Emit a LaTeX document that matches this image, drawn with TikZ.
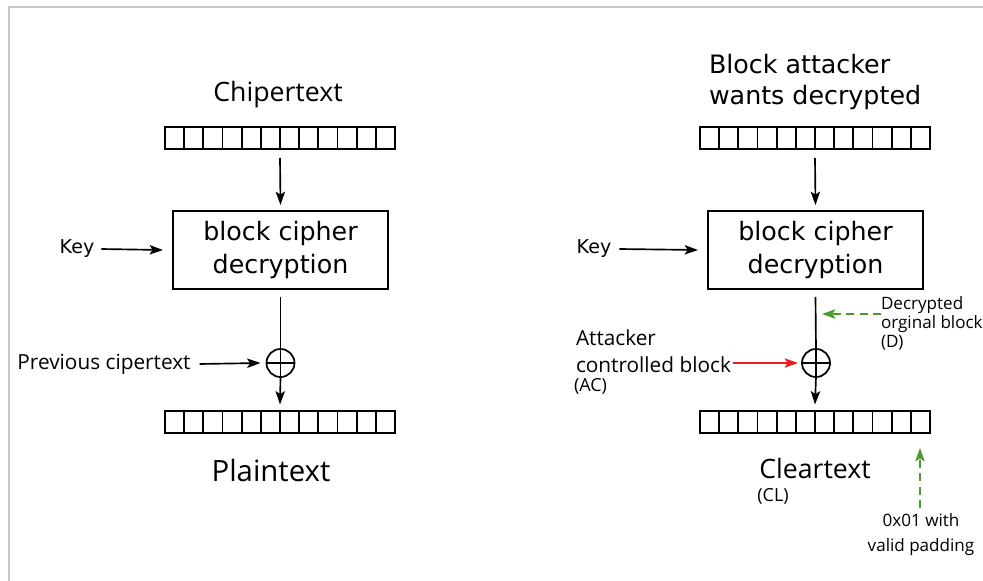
\documentclass[tikz,border=0pt]{standalone}
\usepackage{fontspec}
\setmainfont{DejaVu Sans}
\newfontfamily\opensans{Open Sans}
\usetikzlibrary{arrows.meta,calc}
\definecolor{dgreen}{HTML}{4C9A2A}
\definecolor{dred}{HTML}{EE1C1C}
\begin{document}
\begin{tikzpicture}[x=0.75pt,y=-0.75pt,
  every node/.style={inner sep=0pt, outer sep=0pt},
  bar/.style={draw, line width=1.5pt, minimum width=172.5pt, minimum height=16.5pt},
  cbox/.style={draw, line width=1.5pt, minimum width=161.25pt, minimum height=58.5pt, align=center, font=\fontsize{19}{24.75}\selectfont},
  xor/.style={circle, draw, line width=1.3pt, minimum size=21pt,
    path picture={\draw[line width=1.2pt] (path picture bounding box.north) -- (path picture bounding box.south) (path picture bounding box.west) -- (path picture bounding box.east);}},
  arr/.style={line width=1.25pt, -{Stealth[length=10pt,width=7pt,inset=2.2pt]}},
  garr/.style={arr, dgreen, dashed, dash pattern=on 6pt off 4pt},
  rarr/.style={arr, dred},
  keytxt/.style={font=\fontsize{14.3}{17}\selectfont},
  mid/.style={font=\opensans\fontsize{15.6}{20.25}\selectfont},
  small/.style={font=\opensans\fontsize{12.8}{14.25}\selectfont},
  tiny/.style={font=\opensans\fontsize{13.5}{16}\selectfont}
]
\useasboundingbox (0,0) rectangle (983,581);
\draw[black!22, line width=1pt] (9,581) -- (9,7) -- (983,7);

% ---------- left ----------
\node[font=\opensans\fontsize{20}{24}\selectfont] (ct) at (278,95) {Chipertext};
\node[bar] (b1) at (280,138) {};
\node[cbox] (c1) at (280.5,250) {block cipher\\decryption};
\node[keytxt] (k1) at (77,249) {Key};
\node[xor] (x1) at (280.5,363) {};
\node[bar] (b2) at (280,421.5) {};
\node[mid] (pc) at (104,364) {Previous cipertext};
\node[font=\opensans\fontsize{22}{26}\selectfont] (pt) at (271,470) {Plaintext};

\draw[arr] ($(b1.south)+(0,9)$) -- ($(c1.north)+(0,-6)$);
\draw[arr] ($(k1.east)+(7,0)$) -- ($(c1.west)+(-10,0)$);
\draw[line width=1.25pt] ($(c1.south)+(0,8)$) -- (x1.north);
\draw[arr] (x1.south) -- ($(b2.north)+(0,-6)$);
\draw[arr] ($(pc.east)+(9,0)$) -- ($(x1.west)+(-6,0)$);

% ---------- right ----------
\node[font=\fontsize{19}{23.25}\selectfont, align=left, anchor=west] (bt) at (709,82) {Block attacker\\wants decrypted};
\node[bar] (b3) at (815,138) {};
\node[cbox] (c2) at (815.5,250) {block cipher\\decryption};
\node[keytxt] (k2) at (594,249) {Key};
\node[xor] (x2) at (816,363) {};
\node[bar] (b4) at (815,421.5) {};
\node[mid, align=left, anchor=west] (ac) at (576,351) {Attacker\\controlled block};
\node[tiny, anchor=west] (acl) at (574,386) {(AC)};
\node[small, align=left, anchor=west] (dd) at (881,323) {Decrypted\\orginal block\\(D)};
\node[font=\opensans\fontsize{20}{24}\selectfont] (cl) at (815,468) {Cleartext};
\node[tiny] (cll) at (773,496) {(CL)};
\node[font=\opensans\fontsize{12.8}{18.75}\selectfont, align=center] (pad) at (921,535) {0x01 with\\valid padding};
\coordinate (dtip) at (822,314);
\coordinate (padtip) at (920,448);

\draw[arr] ($(b3.south)+(0,9)$) -- ($(c2.north)+(0,-6)$);
\draw[arr] ($(k2.east)+(8,0)$) -- ($(c2.west)+(-10,0)$);
\draw[line width=1.25pt] ($(c2.south)+(0,8)$) -- (x2.north);
\draw[arr] (x2.south) -- ($(b4.north)+(0,-6)$);
\draw[rarr] (ac.east |- x2) ++(2,0) -- ($(x2.west)+(-4,0)$);
\draw[garr] (dd.west |- dtip) -- (dtip);
\draw[garr] ($(pad.north)+(-1,-6)$) -- (padtip);

% cell dividers
\foreach \b in {b1,b2,b3,b4}{
  \foreach \i in {1,...,11}{
    \draw[line width=1.3pt] ($(\b.south west)!\i/12!(\b.south east)$) -- ($(\b.north west)!\i/12!(\b.north east)$);
  }
}
\end{tikzpicture}
\end{document}
